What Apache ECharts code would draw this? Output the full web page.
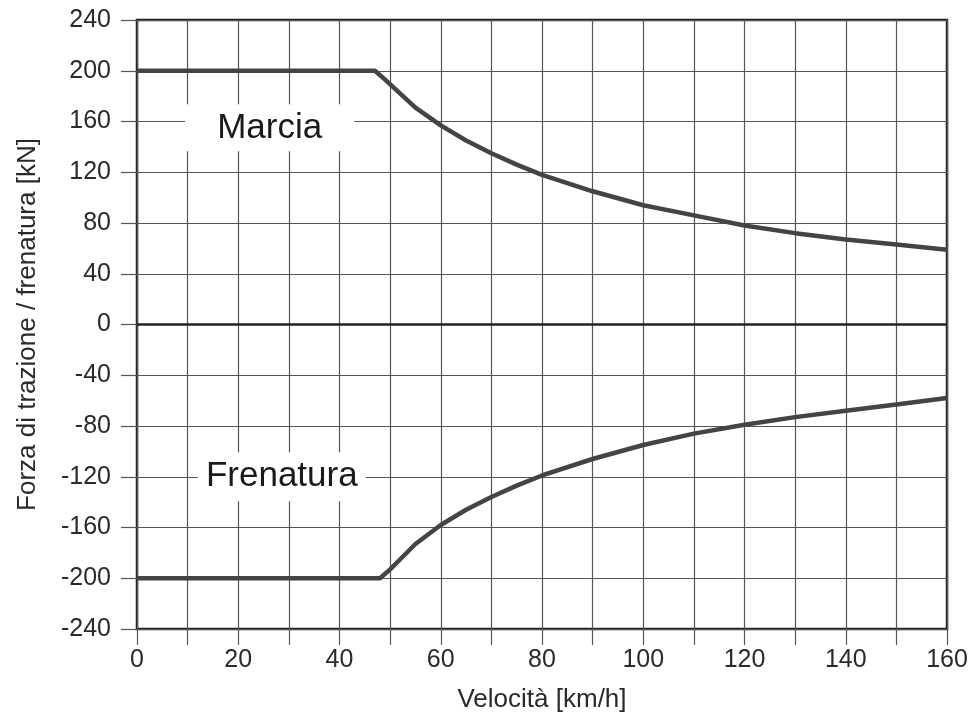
<!DOCTYPE html>
<html>
<head>
<meta charset="utf-8">
<script src="https://cdn.jsdelivr.net/npm/echarts@6/dist/echarts.min.js"></script>
<style>
  html, body { margin: 0; padding: 0; background: #fff; }
  #chart { width: 972px; height: 718px; }
</style>
</head>
<body>
<div id="chart"></div>
<script>
// velocità [km/h] e forza [kN]
const speedMarcia = [0, 47, 49, 52, 55, 60, 65, 70, 75, 80, 90, 100, 110, 120, 130, 140, 150, 160]
const forceMarcia = [200, 200, 193, 182, 171, 157, 145, 135, 126, 118, 105, 94, 86, 78, 72, 67, 63, 59]
const speedFrenatura = [0, 48, 50, 52, 55, 60, 65, 70, 75, 80, 90, 100, 110, 120, 130, 140, 150, 160]
const forceFrenatura = [-200, -200, -193, -185, -173, -158, -146, -136, -127, -119, -106, -95, -86, -79, -73, -68, -63, -58]

// etichette dentro il grafico
const annotations = [
    { name: 'Marcia', at: [26.2, 155], pad: [6, 32] },
    { name: 'Frenatura', at: [28.6, -120], pad: [7, 8] }
]

function pairs (xs, ys) {
    let out = []
    for (var i = 0; i < xs.length; i++) {
        out.push([xs[i], ys[i]])
    }
    return out
}

const textColor = '#2a2a2a'
const lineColor = '#444'

let myChart = echarts.init(document.getElementById('chart'))

myChart.setOption({
    animation: false,
    backgroundColor: '#fff',
    grid: {
        left: 137, right: 25, top: 20, bottom: 88,
        show: true, borderColor: '#222', borderWidth: 2.5
    },
    xAxis: {
        type: 'value', min: 0, max: 160, interval: 10,
        name: 'Velocità [km/h]', nameLocation: 'middle', nameGap: 58,
        nameTextStyle: { fontFamily: 'Liberation Sans', fontSize: 26, color: textColor },
        axisLine: { show: false, onZero: false },
        axisTick: { show: true, inside: false, length: 16, lineStyle: { color: '#555', width: 1.2 } },
        axisLabel: {
            fontFamily: 'Liberation Sans', fontSize: 25, color: textColor, margin: 19,
            formatter: function (v) { return v % 20 === 0 ? String(v) : '' }
        },
        splitLine: { show: true, lineStyle: { color: '#555', width: 1.2 } }
    },
    yAxis: {
        type: 'value', min: -240, max: 240, interval: 40,
        name: 'Forza di trazione / frenatura [kN]', nameLocation: 'middle', nameGap: 96,
        nameTextStyle: { fontFamily: 'Liberation Sans', fontSize: 26, color: textColor },
        axisLine: { show: false },
        axisTick: { show: true, inside: false, length: 16, lineStyle: { color: '#555', width: 1.2 } },
        axisLabel: { fontFamily: 'Liberation Sans', fontSize: 25, color: textColor, margin: 26 },
        splitLine: { show: true, lineStyle: { color: '#555', width: 1.2 } }
    },
    series: [
        {
            name: 'Marcia', type: 'line', data: pairs(speedMarcia, forceMarcia),
            showSymbol: false, smooth: false,
            lineStyle: { color: lineColor, width: 4.5, join: 'round' },
            markLine: {
                silent: true, symbol: 'none', label: { show: false },
                lineStyle: { color: '#222', width: 2.5, type: 'solid' },
                data: [{ yAxis: 0 }]
            },
            z: 3
        },
        {
            name: 'Frenatura', type: 'line', data: pairs(speedFrenatura, forceFrenatura),
            showSymbol: false, smooth: false,
            lineStyle: { color: lineColor, width: 4.5, join: 'round' },
            z: 3
        },
        {
            type: 'scatter', symbolSize: 0, silent: true, z: 4,
            itemStyle: { opacity: 1 },
            data: annotations.map(function (a) {
                return {
                    value: a.at,
                    label: {
                        show: true, position: 'inside', formatter: a.name,
                        fontFamily: 'Liberation Sans', fontSize: 35, color: '#1a1a1a',
                        backgroundColor: '#fff', padding: a.pad
                    }
                }
            })
        }
    ]
})
</script>
</body>
</html>
